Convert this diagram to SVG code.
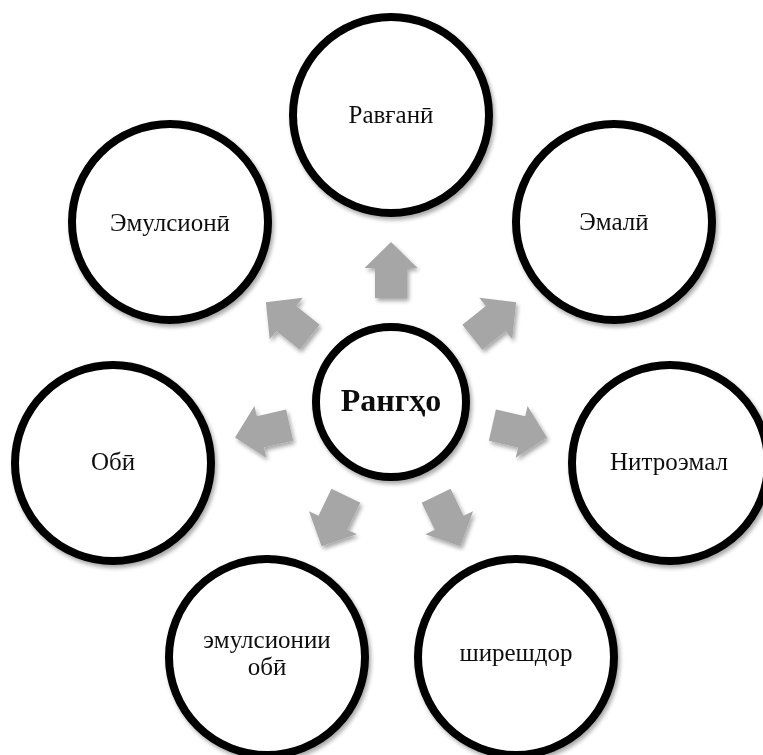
<svg xmlns="http://www.w3.org/2000/svg" width="763" height="755" viewBox="0 0 763 755">
  <defs>
    <filter id="sh" x="-20%" y="-20%" width="140%" height="140%">
      <feGaussianBlur in="SourceAlpha" stdDeviation="2"/>
      <feOffset dx="2" dy="3" result="b"/>
      <feComponentTransfer><feFuncA type="linear" slope="0.35"/></feComponentTransfer>
      <feMerge><feMergeNode/><feMergeNode in="SourceGraphic"/></feMerge>
    </filter>
    <path id="arr" d="M104,-16 L134,-16 L134,-26.5 L160,0 L134,26.5 L134,16 L104,16 Z"/>
  </defs>
  <style>
    .node circle { fill: #ffffff; stroke: #000000; stroke-width: 8; }
    .lbl { font-family: "Liberation Serif", "DejaVu Serif", serif; font-size: 25px; fill: #111111; text-anchor: middle; }
    .ctr { font-family: "Liberation Serif", "DejaVu Serif", serif; font-size: 32px; font-weight: bold; fill: #111111; text-anchor: middle; }
    .arrow { fill: #a6a6a6; }
  </style>
  <rect width="763" height="755" fill="#ffffff"/>
  <g id="connectors" filter="url(#sh)">
    <use href="#arr" class="arrow" transform="translate(391,402) rotate(-90)"/>
    <use href="#arr" class="arrow" transform="translate(391,402) rotate(-38.57)"/>
    <use href="#arr" class="arrow" transform="translate(391,402) rotate(12.86)"/>
    <use href="#arr" class="arrow" transform="translate(391,402) rotate(64.29)"/>
    <use href="#arr" class="arrow" transform="translate(391,402) rotate(115.71)"/>
    <use href="#arr" class="arrow" transform="translate(391,402) rotate(167.14)"/>
    <use href="#arr" class="arrow" transform="translate(391,402) rotate(218.57)"/>
  </g>
  <g id="center" class="node" filter="url(#sh)">
    <circle cx="391" cy="402" r="75"/>
    <text class="ctr" x="391" y="411">Рангҳо</text>
  </g>
  <g id="n-ravgani" class="node" filter="url(#sh)">
    <circle cx="391" cy="115" r="98"/>
    <text class="lbl" x="391" y="123">Равғанӣ</text>
  </g>
  <g id="n-emali" class="node" filter="url(#sh)">
    <circle cx="614" cy="222" r="98"/>
    <text class="lbl" x="614" y="230">Эмалӣ</text>
  </g>
  <g id="n-nitroemal" class="node" filter="url(#sh)">
    <circle cx="670" cy="463" r="98"/>
    <text class="lbl" x="669" y="470">Нитроэмал</text>
  </g>
  <g id="n-shireshdor" class="node" filter="url(#sh)">
    <circle cx="516" cy="657" r="98"/>
    <text class="lbl" x="516" y="661">ширешдор</text>
  </g>
  <g id="n-emulsionii-obi" class="node" filter="url(#sh)">
    <circle cx="267" cy="657" r="98"/>
    <text class="lbl" x="267" y="648">эмулсионии</text>
    <text class="lbl" x="267" y="675">обӣ</text>
  </g>
  <g id="n-obi" class="node" filter="url(#sh)">
    <circle cx="113" cy="463" r="98"/>
    <text class="lbl" x="113" y="470">Обӣ</text>
  </g>
  <g id="n-emulsioni" class="node" filter="url(#sh)">
    <circle cx="170" cy="222" r="98"/>
    <text class="lbl" x="170" y="231">Эмулсионӣ</text>
  </g>
</svg>
